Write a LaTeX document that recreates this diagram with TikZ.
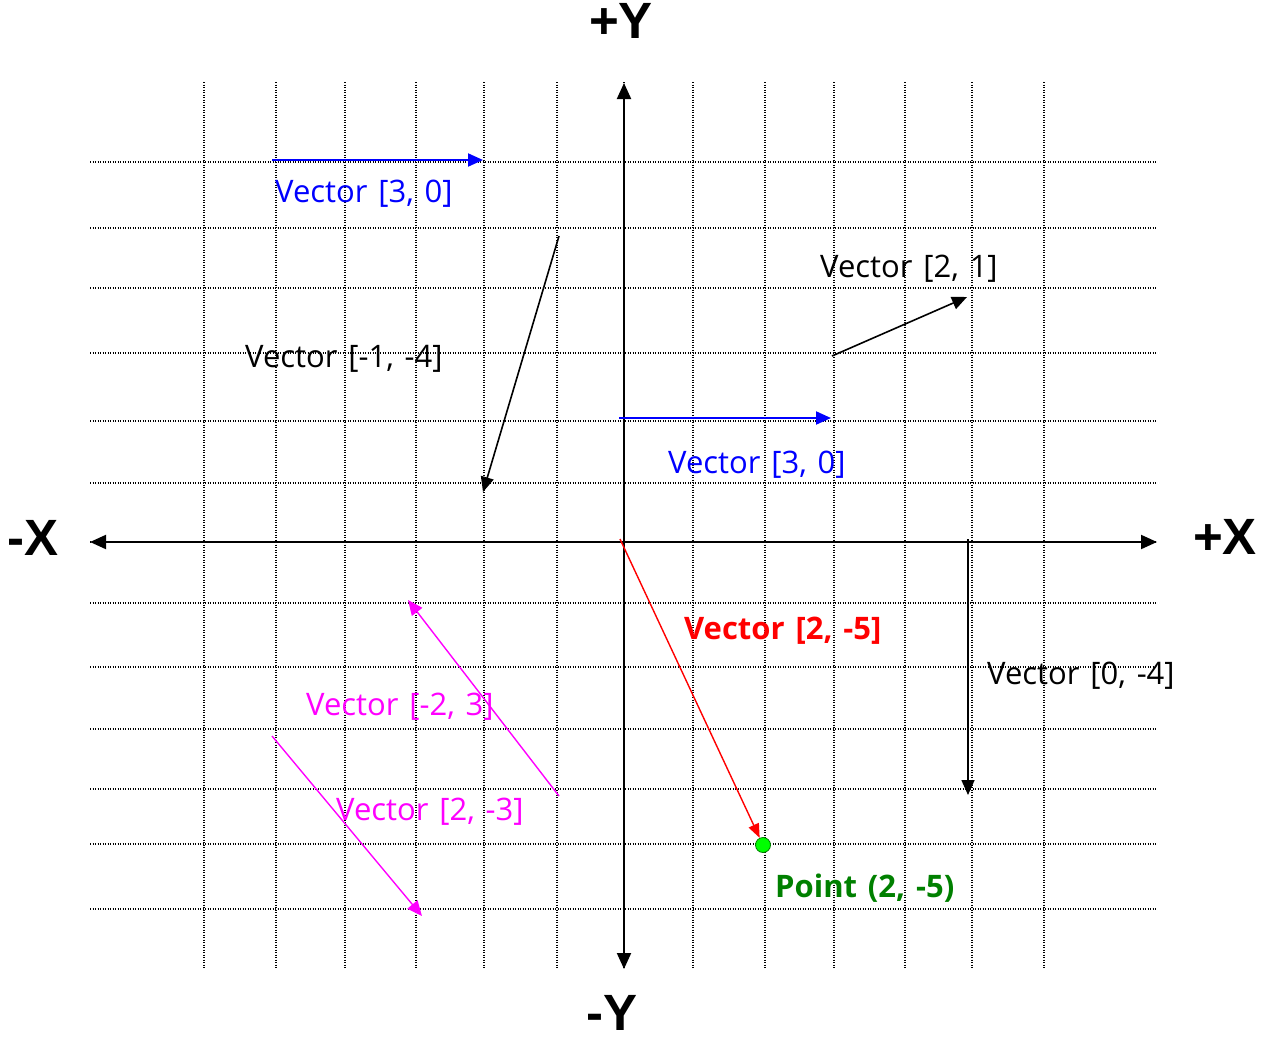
\documentclass[tikz,border=0pt]{standalone}
\usepackage{fontspec}
\setmainfont{Open Sans}[WordSpace=1.35]
\newfontfamily\axfont{Liberation Sans}
\usetikzlibrary{arrows.meta}
\definecolor{vblue}{RGB}{0,0,255}
\definecolor{vred}{RGB}{255,0,0}
\definecolor{vmag}{RGB}{255,0,255}
\definecolor{ptgreen}{RGB}{0,255,0}
\definecolor{dkgreen}{RGB}{0,128,0}

\begin{document}
\begin{tikzpicture}[x=1pt,y=-1pt,
      gridline/.style={draw=black,line width=1.2pt,dash pattern=on 1.2pt off 1.3pt},
      axis/.style={draw=black,line width=2pt,{Triangle[length=16pt,width=14pt]}-{Triangle[length=16pt,width=14pt]}},
      vec/.style={line width=1.6pt,-{Triangle[length=15pt,width=13pt]}},
      lbl/.style={anchor=base west,inner sep=0pt,font=\fontsize{31}{36}\selectfont},
      bflbl/.style={lbl,font=\bfseries\fontsize{31}{36}\selectfont},
      axlbl/.style={inner sep=0pt,font=\axfont\bfseries\fontsize{51}{56}\selectfont}
    ]
    \useasboundingbox (0,0) rectangle (1262,1039);

    % grid
    \foreach \x in {204,276,345,416,484,557,624,693,765,834,905,972,1044}
      \draw[gridline] (\x,82) -- (\x,968);
    \foreach \y in {162,228,288,353,421,483,542,603,667,729,789,844,909}
      \draw[gridline] (90,\y) -- (1157,\y);

    % axes
    \coordinate (xl) at (90,542);
    \coordinate (xr) at (1157,542);
    \coordinate (yt) at (624,83);
    \coordinate (yb) at (624,969);
    \draw[axis] (xl) -- (xr);
    \draw[axis] (yb) -- (yt);
    \node[axlbl] (lpy) at (621,21) {+Y};
    \node[axlbl] (lmy) at (612,1013) {-Y};
    \node[axlbl] (lmx) at (33,538) {-X};
    \node[axlbl] (lpx) at (1225,537) {+X};

    % vectors
    \coordinate (a1) at (272,160);  \coordinate (a2) at (483,160);
    \coordinate (b1) at (619,418);  \coordinate (b2) at (831,418);
    \coordinate (c1) at (559,236);  \coordinate (c2) at (483,492);
    \coordinate (d1) at (832,356);  \coordinate (d2) at (967,297);
    \coordinate (e1) at (620,539);
    \coordinate (f1) at (968,539);  \coordinate (f2) at (968,795);
    \coordinate (g1) at (559,796);  \coordinate (g2) at (408,600);
    \coordinate (h1) at (272,736);  \coordinate (h2) at (422,916);
    \node[circle,fill=ptgreen,draw=dkgreen,line width=0.8pt,minimum size=15pt,inner sep=0pt] (pt) at (763,845) {};

    \draw[vec,vblue,line width=2pt] (a1) -- (a2);
    \draw[vec,vblue,line width=2pt] (b1) -- (b2);
    \draw[vec,black] (c1) -- (c2);
    \draw[vec,black] (d1) -- (d2);
    \draw[vec,vred,line width=1.4pt,-{Triangle[length=14pt,width=11pt]}] (e1) -- (pt);
    \draw[vec,black] (f1) -- (f2);
    \draw[vec,vmag,line width=1.4pt] (g1) -- (g2);
    \draw[vec,vmag,line width=1.4pt] (h1) -- (h2);

    % labels
    \node[lbl,vblue] (la) at (275,202) {Vector [3, 0]};
    \node[lbl,vblue] (lb) at (668,473) {Vector [3, 0]};
    \node[lbl] (lc) at (245,367) {Vector [-1, -4]};
    \node[lbl] (ld) at (820,277) {Vector [2, 1]};
    \node[bflbl,vred] (le) at (684,639) {Vector [2, -5]};
    \node[lbl] (lf) at (987,684) {Vector [0, -4]};
    \node[lbl,vmag] (lg) at (306,715) {Vector [-2, 3]};
    \node[lbl,vmag] (lh) at (336,820) {Vector [2, -3]};
    \node[bflbl,dkgreen] (lpt) at (775,897) {Point (2, -5)};
  \end{tikzpicture}
\end{document}
